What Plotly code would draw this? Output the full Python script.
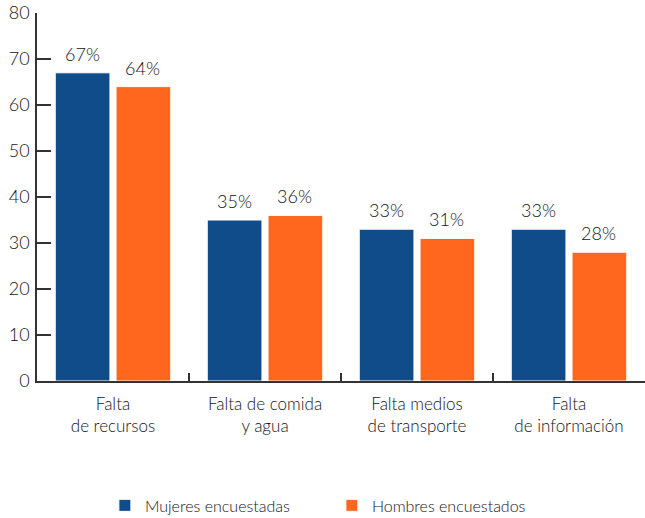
import plotly.graph_objects as go

categories = ["Falta<br>de recursos", "Falta de comida<br>y agua", "Falta medios<br>de transporte", "Falta<br>de información"]
mujeres = [67, 35, 33, 33]
hombres = [64, 36, 31, 28]
series_names = ["Mujeres encuestadas", "Hombres encuestados"]
y_ticks = [0, 10, 20, 30, 40, 50, 60, 70, 80]

BLUE = "#104B8A"
ORANGE = "#FF661E"
TEXT = "#141414"
FONT = "Lato"

fig = go.Figure()
fig.add_trace(go.Bar(x=categories, y=mujeres, name=series_names[0],
                     marker=dict(color=BLUE, line=dict(color="white", width=1))))
fig.add_trace(go.Bar(x=categories, y=hombres, name=series_names[1],
                     marker=dict(color=ORANGE, line=dict(color="white", width=1))))

for vals, shift in ((mujeres, -31), (hombres, 29)):
    for c, v in zip(categories, vals):
        fig.add_annotation(x=c, y=v, text=f"{v}%", showarrow=False, xshift=shift,
                           yanchor="bottom", yshift=6,
                           font=dict(family=FONT, size=18, color=TEXT, weight=300))

fig.update_layout(
    width=645, height=518,
    margin=dict(l=37, r=0, t=13, b=137, autoexpand=False),
    paper_bgcolor="white", plot_bgcolor="white",
    barmode="group", bargap=0.2, bargroupgap=0.1,
    font=dict(family=FONT, color=TEXT, size=15, weight=300),
    legend=dict(orientation="h", x=0.485, xanchor="center", y=-0.292, yanchor="top",
                font=dict(family=FONT, size=16, color=TEXT, weight=300), itemwidth=30,
                traceorder="normal", entrywidthmode="pixels", entrywidth=182),
    xaxis=dict(showline=True, linecolor="#333333", linewidth=1.5,
               ticks="inside", ticklen=8, tickcolor="#333333", tickwidth=1.5,
               tickson="boundaries", showgrid=False, range=[-0.5, 3.5], automargin=False,
               tickfont=dict(family=FONT, size=17, color=TEXT, weight=300), ticklabelstandoff=7),
    yaxis=dict(range=[0, 80], tickvals=y_ticks, showline=True, linecolor="#333333",
               linewidth=1.5, ticks="inside", ticklen=14, tickcolor="#333333",
               tickwidth=1.5, showgrid=False, zeroline=False, automargin=False,
               tickfont=dict(family=FONT, size=18, color=TEXT, weight=300), ticklabelstandoff=2),
)

fig.write_html("out.html", config={"displayModeBar": False},
               post_script="document.body.style.margin='0';document.body.style.overflow='hidden';")
